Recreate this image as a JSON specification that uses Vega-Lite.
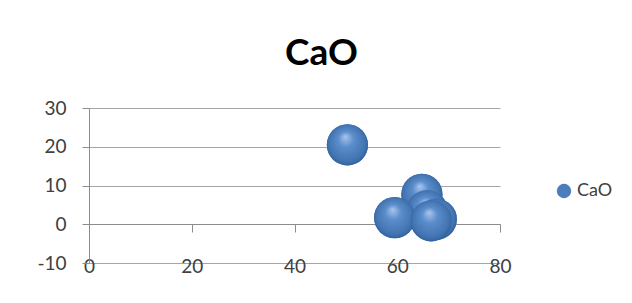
{
  "$schema": "https://vega.github.io/schema/vega-lite/v6.json",
  "autosize": "none",
  "width": 411,
  "height": 155,
  "padding": {"left": 89, "top": 108, "right": 132, "bottom": 40},
  "background": "white",
  "title": {
    "text": "CaO",
    "font": "Lato",
    "fontSize": 37,
    "fontWeight": "bold",
    "color": "#000000",
    "anchor": "middle",
    "dx": 27,
    "baseline": "bottom",
    "offset": -11
  },
  "data": {
    "values": [
      {"x": 50.3, "y": 20.5, "series": "CaO"},
      {"x": 64.8, "y": 7.7, "series": "CaO"},
      {"x": 65.8, "y": 3.5, "series": "CaO"},
      {"x": 67.6, "y": 1.3, "series": "CaO"},
      {"x": 59.5, "y": 1.7, "series": "CaO"},
      {"x": 66.6, "y": 0.9, "series": "CaO"}
    ]
  },
  "encoding": {
    "x": {
      "field": "x",
      "type": "quantitative",
      "scale": {"domain": [0, 80], "nice": false, "zero": false},
      "axis": {
        "title": null,
        "values": [0, 20, 40, 60, 80],
        "grid": false,
        "offset": -39,
        "labelFlush": false,
        "domainColor": "#8c8c8c",
        "tickColor": "#8c8c8c",
        "tickSize": 8,
        "labelPadding": 34,
        "labelBaseline": "middle",
        "labelFont": "Lato",
        "labelFontSize": 19,
        "labelColor": "#404040"
      }
    },
    "y": {
      "field": "y",
      "type": "quantitative",
      "scale": {"domain": [-10, 30], "nice": false, "zero": false},
      "axis": {
        "title": null,
        "values": [-10, 0, 10, 20, 30],
        "labelExpr": "datum.value < 0 ? '-' + abs(datum.value) : '' + datum.value",
        "grid": true,
        "gridColor": "#a6a6a6",
        "domainColor": "#8c8c8c",
        "tickColor": "#8c8c8c",
        "tickSize": 7,
        "labelPadding": 16,
        "labelFont": "Lato",
        "labelFontSize": 19,
        "labelColor": "#404040"
      }
    }
  },
  "layer": [
    {
      "mark": {"type": "point", "shape": "circle", "filled": true, "size": 1700, "opacity": 1},
      "encoding": {
        "color": {
          "field": "series",
          "type": "nominal",
          "scale": {"range": ["#4a7dbb"]},
          "legend": {
            "title": null,
            "orient": "none",
            "legendX": 466,
            "legendY": 74,
            "symbolSize": 190,
            "symbolOpacity": 1,
            "symbolStrokeColor": "#2f5f99",
            "symbolStrokeWidth": 0.5,
            "labelFont": "Lato",
            "labelFontSize": 18,
            "labelColor": "#404040",
            "labelOffset": 4
          }
        }
      }
    },
    {
      "mark": {
        "type": "point",
        "shape": "circle",
        "filled": true,
        "size": 1700,
        "opacity": 1,
        "color": {
          "gradient": "radial",
          "x1": 0.45, "y1": 0.3, "r1": 0,
          "x2": 0.5, "y2": 0.5, "r2": 0.55,
          "stops": [
            {"offset": 0, "color": "#a9c6ec"},
            {"offset": 0.35, "color": "#5b8ccb"},
            {"offset": 0.8, "color": "#4274b2"},
            {"offset": 1, "color": "#2b5a92"}
          ]
        }
      }
    }
  ],
  "config": {
    "view": {"stroke": null},
    "axis": {"domainWidth": 1, "tickWidth": 1, "gridWidth": 1}
  }
}
